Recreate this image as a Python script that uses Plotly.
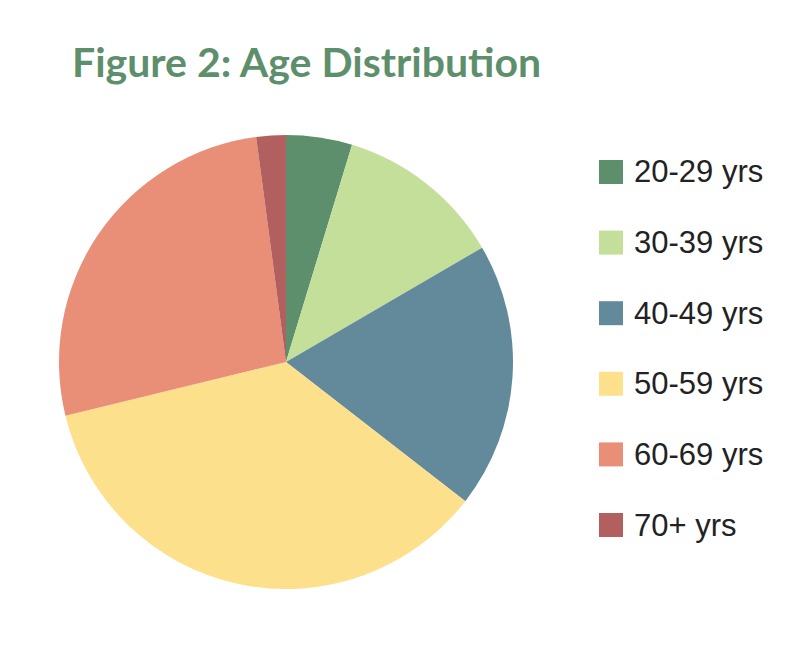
import plotly.graph_objects as go

categories = ["20-29 yrs", "30-39 yrs", "40-49 yrs", "50-59 yrs", "60-69 yrs", "70+ yrs"]
values = [4.7, 11.9, 18.9, 35.7, 26.7, 2.1]
colors = ["#5e8f6c", "#c4df9a", "#638a9b", "#fde08b", "#e98e77", "#b15f5f"]

W, H = 805, 649
OFF = 8  # page body margin
cx, cy, r = 286 - OFF, 362 - OFF, 227

fig = go.Figure()
fig.add_trace(go.Pie(
    labels=categories, values=values, sort=False, direction="clockwise", rotation=0,
    marker=dict(colors=colors, line=dict(width=0)), textinfo="none", hoverinfo="label+percent",
    showlegend=False,
    domain=dict(x=[(cx - r) / W, (cx + r) / W], y=[(H - cy - r) / H, (H - cy + r) / H]),
))

shapes = []
annotations = []
y0 = 172 - OFF
step = 70.6
for i, (c, col) in enumerate(zip(categories, colors)):
    yc = y0 + i * step
    shapes.append(dict(type="rect", xref="paper", yref="paper",
                       x0=(599 - OFF) / W, x1=(623 - OFF) / W, y0=(H - yc - 12) / H, y1=(H - yc + 12) / H,
                       fillcolor=col, line=dict(width=0)))
    annotations.append(dict(text=c, xref="paper", yref="paper", x=(632 - OFF) / W, y=(H - yc) / H,
                            xanchor="left", yanchor="middle", showarrow=False,
                            font=dict(family="Liberation Sans", size=31, color="#222222")))

annotations.append(dict(text="<b>Figure 2: Age Distribution</b>", xref="paper", yref="paper",
                        x=(70 - OFF) / W, y=(H - 62 + OFF) / H, xanchor="left", yanchor="middle", showarrow=False,
                        font=dict(family="Lato", size=41, weight=900, color="#5e8f6c")))

fig.update_layout(width=W, height=H, margin=dict(l=0, r=0, t=0, b=0),
                  paper_bgcolor="white", plot_bgcolor="white",
                  shapes=shapes, annotations=annotations)
fig.write_html("out.html")
